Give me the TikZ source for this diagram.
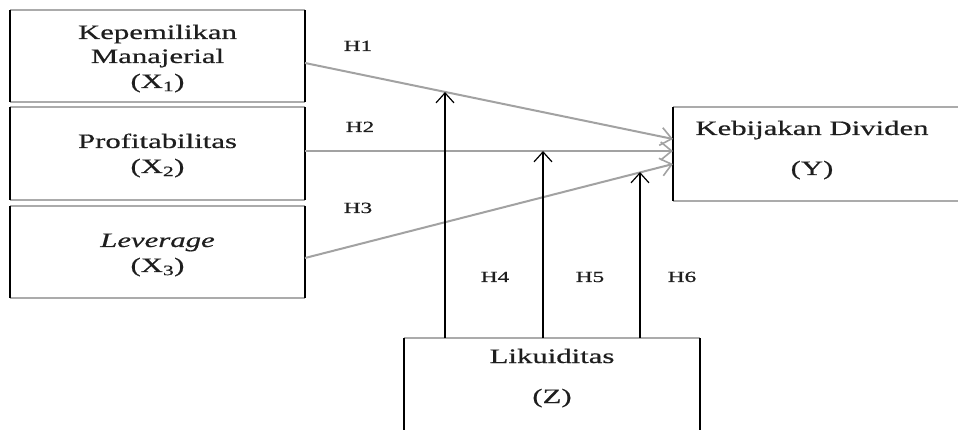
\documentclass[tikz,border=0pt]{standalone}
\usepackage{fontspec}
\setmainfont[FakeStretch=1.5,FakeBold=0.6]{Liberation Serif}
\usetikzlibrary{arrows.meta,calc}
\definecolor{hline}{HTML}{A2A2A2}
\definecolor{hedgec}{HTML}{ABABAB}
\definecolor{txt}{HTML}{1E1E1E}
\newcommand\boxedges[1]{%
  \draw[hedge] (#1.north west) -- (#1.north east) (#1.south west) -- (#1.south east);
  \draw[vedge] (#1.north west) -- (#1.south west) (#1.north east) -- (#1.south east);}
\begin{document}
\begin{tikzpicture}[x=1pt,y=-1pt,
  boxnode/.style={draw=none,inner sep=0pt,outer sep=0pt,rectangle},
  hedge/.style={draw=hedgec,line width=2.6pt},
  vedge/.style={draw=black,line width=1.2pt},
  lbl/.style={anchor=base,inner sep=0pt,text=txt,font=\fontsize{20.5}{24}\selectfont},
  hlbl/.style={anchor=base,inner sep=0pt,text=txt,font=\fontsize{15.5}{18}\selectfont},
  harrow/.style={draw=hline,line width=2pt,-{Straight Barb[length=11pt,width=18pt,line width=1.6pt]}},
  varrow/.style={draw=black,line width=1.2pt,-{Straight Barb[length=10pt,width=18pt,line width=1.2pt]}}
]
\useasboundingbox (0,0) rectangle (958,430);
\fill[white] (0,0) rectangle (958,430);
% boxes
\node[boxnode,minimum width=295pt,minimum height=92pt] (b1) at (157.5,56) {};
\node[boxnode,minimum width=295pt,minimum height=93pt] (b2) at (157.5,153.5) {};
\node[boxnode,minimum width=295pt,minimum height=92pt] (b3) at (157.5,252) {};
\node[boxnode,minimum width=287pt,minimum height=94pt] (y) at (816.5,154) {};
\node[boxnode,minimum width=296pt,minimum height=94pt] (z) at (552,385) {};
\boxedges{b1}
\boxedges{b2}
\boxedges{b3}
\boxedges{y}
\boxedges{z}
% texts
\node[lbl] (t1a) at (157.5,39) {Kepemilikan};
\node[lbl] (t1b) at (157.5,63) {Manajerial};
\node[lbl] (t1c) at (157.5,88) {(X\textsubscript{1})};
\node[lbl] (t2a) at (157.5,148) {Profitabilitas};
\node[lbl] (t2b) at (157.5,173) {(X\textsubscript{2})};
\node[lbl] (t3a) at (157.5,247) {\itshape Leverage};
\node[lbl] (t3b) at (157.5,272) {(X\textsubscript{3})};
\node[lbl] (tya) at (812,135) {Kebijakan Dividen};
\node[lbl] (tyb) at (812,175) {(Y)};
\node[lbl] (tza) at (552,363) {Likuiditas};
\node[lbl] (tzb) at (552,403) {(Z)};
% hypothesis labels
\node[hlbl] (h1) at (358,51) {H1};
\node[hlbl] (h2) at (360,132) {H2};
\node[hlbl] (h3) at (358,213) {H3};
\node[hlbl] (h4) at (495,282) {H4};
\node[hlbl] (h5) at (590,282) {H5};
\node[hlbl] (h6) at (682,282) {H6};
% direct arrows
\draw[harrow] ($(b1.east)+(0,7)$) -- ($(y.west)+(0,-15)$);
\draw[harrow] ($(b2.east)+(0,-2.5)$) -- ($(y.west)+(0,-3)$);
\draw[harrow] ($(b3.east)+(0,6)$) -- ($(y.west)+(0,10)$);
% moderating arrows
\coordinate (m1) at (445,92);
\coordinate (m2) at (543,151);
\coordinate (m3) at (640,172);
\draw[varrow] (z.north -| m1) -- (m1);
\draw[varrow] (z.north -| m2) -- (m2);
\draw[varrow] (z.north -| m3) -- (m3);
\end{tikzpicture}
\end{document}
